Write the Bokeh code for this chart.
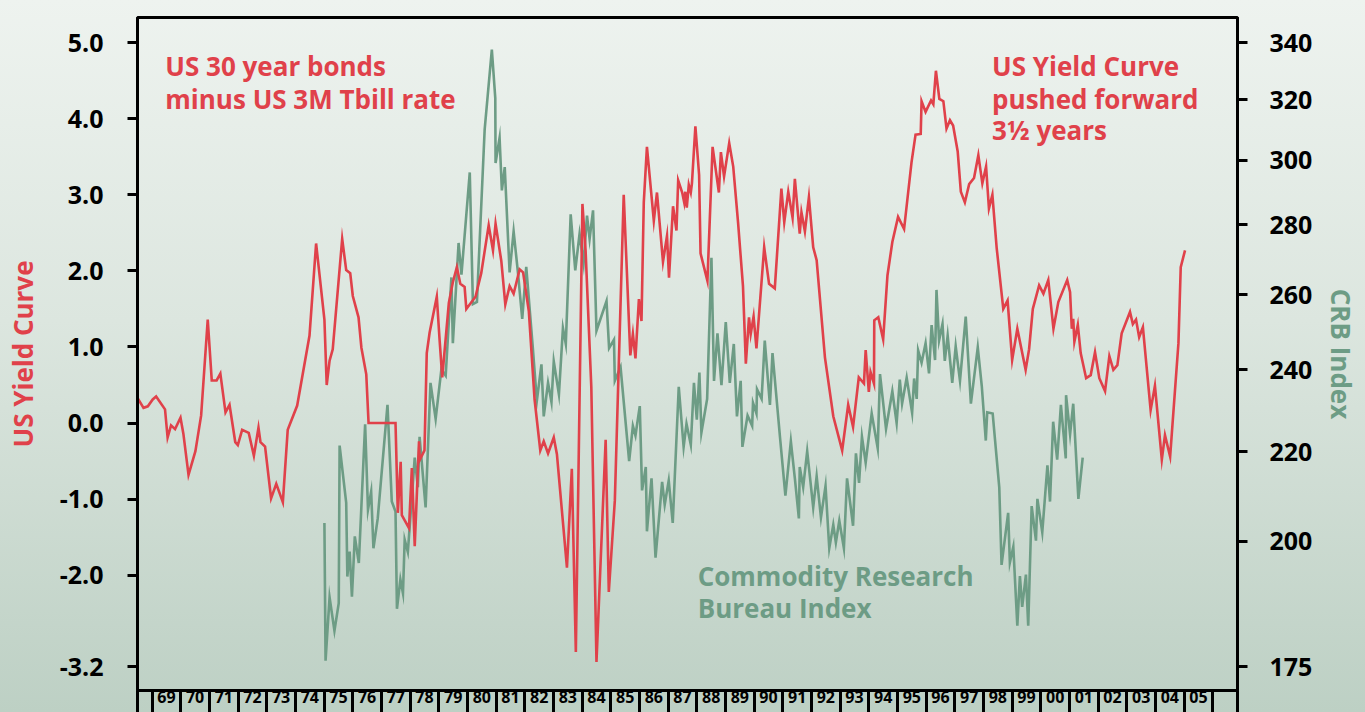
from bokeh.plotting import figure
from bokeh.models import (Range1d, LogAxis, LogScale, FixedTicker,
                          PrintfTickFormatter, Label)
from bokeh.embed import file_html
from bokeh.resources import INLINE

# ---------------- data ----------------
# US yield curve (30y bonds minus 3M T-bill), pushed forward 3.5 years
yc_year = [1968.49, 1968.70, 1968.85, 1969.02, 1969.14, 1969.45, 1969.54, 1969.66, 1969.80, 1969.99,
           1970.09, 1970.27, 1970.51, 1970.71, 1970.94, 1971.08, 1971.25, 1971.38, 1971.56, 1971.70,
           1971.90, 1971.99, 1972.14, 1972.37, 1972.55, 1972.71, 1972.78, 1972.94, 1973.15, 1973.33,
           1973.56, 1973.73, 1974.06, 1974.49, 1974.72, 1975.01, 1975.09, 1975.19, 1975.30, 1975.63,
           1975.77, 1975.91, 1976.00, 1976.20, 1976.30, 1976.47, 1976.55, 1977.49, 1977.57, 1977.67,
           1977.71, 1977.96, 1978.06, 1978.16, 1978.31, 1978.33, 1978.50, 1978.58, 1978.68, 1978.93,
           1979.03, 1979.12, 1979.35, 1979.49, 1979.63, 1979.75, 1979.90, 1979.96, 1980.28, 1980.48,
           1980.74, 1980.89, 1980.98, 1981.18, 1981.32, 1981.47, 1981.61, 1981.82, 1981.94, 1982.14,
           1982.34, 1982.54, 1982.66, 1982.81, 1983.01, 1983.12, 1983.47, 1983.64, 1983.78, 1984.01,
           1984.12, 1984.32, 1984.50, 1984.82, 1984.93, 1985.14, 1985.45, 1985.68, 1985.77, 1985.86,
           1985.98, 1986.07, 1986.15, 1986.26, 1986.50, 1986.61, 1986.82, 1986.96, 1987.03, 1987.17,
           1987.29, 1987.35, 1987.49, 1987.56, 1987.60, 1987.65, 1987.72, 1987.79, 1987.83, 1987.95,
           1988.08, 1988.13, 1988.37, 1988.55, 1988.77, 1988.84, 1988.95, 1989.13, 1989.27, 1989.44,
           1989.61, 1989.71, 1989.82, 1989.88, 1989.98, 1990.08, 1990.35, 1990.52, 1990.72, 1990.95,
           1991.05, 1991.19, 1991.34, 1991.42, 1991.59, 1991.65, 1991.77, 1991.91, 1992.06, 1992.18,
           1992.47, 1992.76, 1993.07, 1993.28, 1993.45, 1993.65, 1993.83, 1993.89, 1994.00, 1994.06,
           1994.18, 1994.19, 1994.33, 1994.50, 1994.65, 1994.82, 1995.02, 1995.23, 1995.49, 1995.63,
           1995.81, 1995.84, 1995.98, 1996.17, 1996.25, 1996.34, 1996.46, 1996.60, 1996.71, 1996.83,
           1996.94, 1997.10, 1997.21, 1997.35, 1997.50, 1997.67, 1997.82, 1997.96, 1998.09, 1998.19,
           1998.31, 1998.46, 1998.69, 1998.84, 1999.00, 1999.18, 1999.47, 1999.59, 1999.72, 1999.94,
           2000.09, 2000.26, 2000.44, 2000.61, 2000.92, 2001.02, 2001.08, 2001.13, 2001.17, 2001.29,
           2001.39, 2001.58, 2001.74, 2001.89, 2002.04, 2002.24, 2002.39, 2002.53, 2002.67, 2002.82,
           2003.11, 2003.21, 2003.32, 2003.43, 2003.56, 2003.83, 2003.98, 2004.22, 2004.33, 2004.51,
           2004.80, 2004.88, 2005.03]
yc_value = [0.33, 0.20, 0.22, 0.31, 0.35, 0.18, -0.19, -0.03, -0.08, 0.07,
            -0.14, -0.68, -0.37, 0.10, 1.36, 0.56, 0.56, 0.65, 0.14, 0.24,
            -0.25, -0.29, -0.09, -0.13, -0.43, -0.06, -0.25, -0.31, -0.99, -0.80,
            -1.04, -0.09, 0.23, 1.15, 2.36, 1.36, 0.50, 0.82, 0.97, 2.42,
            2.01, 1.97, 1.67, 1.39, 0.99, 0.64, 0.00, 0.00, -1.18, -0.51,
            -1.21, -1.38, -0.59, -1.62, -0.24, -0.49, -0.36, 0.92, 1.19, 1.66,
            1.08, 0.60, 1.58, 1.85, 2.05, 1.83, 1.79, 1.50, 1.66, 1.97,
            2.60, 2.27, 2.62, 2.13, 1.56, 1.80, 1.70, 2.02, 1.98, 1.47,
            0.31, -0.36, -0.24, -0.40, -0.19, -0.41, -1.90, -0.60, -3.01, 2.88,
            2.27, 0.47, -3.14, -0.22, -2.22, -1.02, 3.00, 0.89, 1.17, 0.85,
            1.63, 1.34, 2.90, 3.63, 2.66, 3.03, 2.12, 2.46, 1.91, 2.85,
            2.53, 3.19, 3.03, 2.90, 3.04, 2.83, 3.13, 3.03, 3.15, 3.90,
            3.26, 2.23, 1.87, 3.63, 3.03, 3.56, 3.24, 3.68, 3.37, 2.63,
            1.80, 0.78, 1.39, 1.17, 1.40, 0.98, 2.31, 1.83, 1.77, 3.08,
            2.64, 3.04, 2.70, 3.21, 2.49, 2.77, 2.52, 2.97, 2.31, 2.14,
            0.86, 0.09, -0.36, 0.24, -0.05, 0.60, 0.52, 0.96, 0.41, 0.67,
            0.52, 1.35, 1.39, 1.10, 1.94, 2.38, 2.71, 2.55, 3.43, 3.79,
            3.80, 4.23, 4.09, 4.24, 4.19, 4.63, 4.26, 4.23, 3.87, 3.98,
            3.91, 3.57, 3.04, 2.90, 3.14, 3.22, 3.52, 3.15, 3.37, 2.82,
            3.00, 2.30, 1.50, 1.61, 0.83, 1.24, 0.70, 0.97, 1.50, 1.81,
            1.70, 1.88, 1.24, 1.59, 1.88, 1.72, 1.24, 1.37, 1.07, 1.29,
            0.92, 0.59, 0.63, 0.93, 0.59, 0.42, 0.88, 0.70, 0.76, 1.18,
            1.46, 1.30, 1.36, 1.13, 1.26, 0.17, 0.49, -0.48, -0.16, -0.44,
            1.05, 2.05, 2.27]

# Commodity Research Bureau index
crb_year = [1975.01, 1975.05, 1975.19, 1975.36, 1975.51, 1975.54, 1975.77, 1975.81, 1975.89, 1975.97,
            1976.07, 1976.21, 1976.43, 1976.53, 1976.64, 1976.72, 1976.87, 1977.21, 1977.36, 1977.49,
            1977.54, 1977.66, 1977.75, 1977.81, 1977.92, 1978.16, 1978.27, 1978.33, 1978.54, 1978.71,
            1978.89, 1979.09, 1979.24, 1979.44, 1979.49, 1979.69, 1979.79, 1980.08, 1980.19, 1980.33,
            1980.60, 1980.85, 1980.97, 1980.98, 1981.12, 1981.20, 1981.30, 1981.47, 1981.61, 1981.76,
            1981.91, 1982.05, 1982.28, 1982.42, 1982.58, 1982.66, 1982.81, 1982.93, 1983.01, 1983.19,
            1983.33, 1983.43, 1983.60, 1983.76, 1983.91, 1984.05, 1984.17, 1984.26, 1984.38, 1984.50,
            1984.85, 1984.94, 1985.11, 1985.14, 1985.34, 1985.64, 1985.77, 1985.86, 1986.01, 1986.09,
            1986.22, 1986.26, 1986.42, 1986.56, 1986.79, 1986.88, 1987.02, 1987.16, 1987.37, 1987.54,
            1987.64, 1987.79, 1987.90, 1988.00, 1988.09, 1988.16, 1988.36, 1988.51, 1988.60, 1988.72,
            1988.86, 1989.01, 1989.15, 1989.29, 1989.40, 1989.53, 1989.59, 1989.77, 1989.93, 1989.96,
            1990.08, 1990.10, 1990.26, 1990.37, 1990.55, 1990.64, 1990.90, 1991.09, 1991.28, 1991.42,
            1991.56, 1991.59, 1991.71, 1991.85, 1992.06, 1992.18, 1992.33, 1992.49, 1992.62, 1992.76,
            1992.85, 1992.97, 1993.13, 1993.24, 1993.45, 1993.55, 1993.66, 1993.76, 1993.89, 1994.10,
            1994.31, 1994.39, 1994.60, 1994.82, 1994.97, 1995.08, 1995.16, 1995.32, 1995.51, 1995.58,
            1995.67, 1995.72, 1995.84, 1995.98, 1996.10, 1996.19, 1996.31, 1996.36, 1996.45, 1996.57,
            1996.65, 1996.75, 1996.91, 1997.03, 1997.18, 1997.38, 1997.56, 1997.80, 1997.94, 1998.08,
            1998.13, 1998.32, 1998.55, 1998.63, 1998.86, 1998.92, 1999.04, 1999.18, 1999.27, 1999.35,
            1999.48, 1999.56, 1999.68, 1999.83, 1999.88, 2000.05, 2000.23, 2000.32, 2000.43, 2000.57,
            2000.70, 2000.87, 2000.88, 2001.02, 2001.13, 2001.31, 2001.46]
crb_value = [203.9, 176.1, 188.4, 181.8, 187.2, 221.4, 208.3, 192.6, 197.8, 188.5,
             201.0, 195.4, 226.5, 206.8, 210.8, 198.5, 204.9, 231.2, 208.6, 206.4,
             186.1, 192.0, 189.2, 200.3, 197.7, 218.6, 211.8, 223.5, 207.3, 236.7,
             227.8, 240.1, 238.5, 264.8, 246.9, 274.7, 265.6, 296.1, 257.4, 258.0,
             310.0, 337.5, 320.5, 299.1, 307.2, 290.5, 297.8, 266.2, 278.1, 266.2,
             253.4, 267.8, 245.6, 232.2, 241.4, 228.4, 236.7, 231.9, 242.2, 233.8,
             250.9, 246.7, 283.2, 266.8, 277.4, 268.8, 282.8, 275.9, 284.4, 250.2,
             258.2, 245.6, 247.8, 237.2, 240.7, 217.8, 226.1, 223.8, 230.9, 211.1,
             216.4, 202.1, 213.8, 196.5, 213.0, 207.9, 213.3, 203.9, 235.7, 221.1,
             226.6, 221.6, 236.7, 227.6, 239.3, 224.5, 232.7, 270.4, 237.2, 249.5,
             236.1, 252.5, 236.7, 246.7, 228.4, 237.2, 221.1, 228.6, 226.1, 231.7,
             229.1, 235.1, 232.7, 247.6, 231.2, 244.3, 223.5, 209.9, 222.4, 213.8,
             204.9, 216.4, 211.8, 220.1, 207.3, 214.3, 205.1, 212.1, 198.5, 203.5,
             199.7, 204.4, 198.5, 213.8, 203.3, 219.6, 212.8, 223.5, 217.4, 229.1,
             220.8, 238.9, 225.4, 234.6, 226.8, 237.5, 231.5, 238.0, 229.3, 237.8,
             232.7, 245.0, 241.8, 246.9, 239.1, 251.7, 242.5, 261.3, 247.6, 252.0,
             242.3, 248.9, 236.7, 246.1, 237.2, 254.0, 231.5, 245.8, 235.9, 222.6,
             229.4, 229.1, 211.8, 195.0, 206.1, 195.5, 198.8, 182.8, 192.7, 186.5,
             193.0, 182.8, 207.6, 200.1, 209.2, 201.9, 216.8, 208.6, 227.1, 218.1,
             231.2, 218.4, 233.6, 224.1, 231.5, 209.2, 218.6]

year_labels = ["69", "70", "71", "72", "73", "74", "75", "76", "77", "78",
               "79", "80", "81", "82", "83", "84", "85", "86", "87", "88",
               "89", "90", "91", "92", "93", "94", "95", "96", "97", "98",
               "99", "00", "01", "02", "03", "04", "05"]
first_year = 1969
left_ticks = [-3.2, -2.0, -1.0, 0.0, 1.0, 2.0, 3.0, 4.0, 5.0]
right_ticks = [175, 200, 220, 240, 260, 280, 300, 320, 340]

# ---------------- style ----------------
RED = "#e0414a"
GREEN = "#6d9c85"
FONT = "Open Sans"
x_start, x_end = 1968.49, 2006.86

p = figure(width=1365, height=712, output_backend="svg", toolbar_location=None,
           x_range=Range1d(x_start, x_end), y_range=Range1d(-3.515, 5.33),
           min_border_left=137, min_border_right=128, min_border_top=17,
           min_border_bottom=22)
p.styles = {"background": "linear-gradient(to bottom, #eef3ef 0%, #dce6df 45%, #bdd0c4 100%)"}
p.background_fill_color = None
p.border_fill_color = None
p.outline_line_color = "black"
p.outline_line_width = 3
p.outline_line_alpha = 1.0
p.xgrid.grid_line_color = None
p.ygrid.grid_line_color = None

# bottom year strip
mid_ticks = [first_year + i + 0.5 for i in range(len(year_labels))]
bounds = [x_start] + [first_year + i for i in range(len(year_labels) + 1)] + [x_end]
xa = p.xaxis[0]
xa.ticker = FixedTicker(ticks=mid_ticks, minor_ticks=bounds)
xa.major_label_overrides = {t: lab for t, lab in zip(mid_ticks, year_labels)}
xa.major_tick_line_color = None
xa.major_tick_out = 0
xa.major_tick_in = 0
xa.minor_tick_line_color = "black"
xa.minor_tick_line_width = 3
xa.minor_tick_out = 24
xa.minor_tick_in = 0
xa.axis_line_color = "black"
xa.axis_line_width = 3
xa.major_label_standoff = -24
xa.major_label_text_font = FONT
xa.major_label_text_font_size = "16px"
xa.major_label_text_font_style = "bold"
xa.major_label_text_color = "black"

# left axis
ya = p.yaxis[0]
ya.ticker = FixedTicker(ticks=left_ticks)
ya.formatter = PrintfTickFormatter(format="%.1f")
ya.major_tick_out = 10
ya.major_tick_in = 0
ya.major_tick_line_width = 3
ya.minor_tick_line_color = None
ya.axis_line_width = 3
ya.major_label_standoff = 24
ya.major_label_text_font = FONT
ya.major_label_text_font_size = "25px"
ya.major_label_text_font_style = "bold"
ya.major_label_text_color = "black"
ya.axis_label = "US Yield Curve"
ya.axis_label_text_color = RED
ya.axis_label_text_font = FONT
ya.axis_label_text_font_size = "26px"
ya.axis_label_text_font_style = "bold"
ya.axis_label_standoff = 16

# right log axis for CRB
p.extra_y_ranges = {"crb": Range1d(170.6, 349.2)}
p.extra_y_scales = {"crb": LogScale()}
ra = LogAxis(y_range_name="crb", ticker=FixedTicker(ticks=right_ticks),
             formatter=PrintfTickFormatter(format="%d"))
ra.major_tick_out = 10
ra.major_tick_in = 0
ra.major_tick_line_width = 3
ra.minor_tick_line_color = None
ra.axis_line_width = 3
ra.major_label_standoff = 22
ra.major_label_text_font = FONT
ra.major_label_text_font_size = "25px"
ra.major_label_text_font_style = "bold"
ra.major_label_text_color = "black"
ra.axis_label = "CRB Index"
ra.axis_label_text_color = GREEN
ra.axis_label_text_font = FONT
ra.axis_label_text_font_size = "26px"
ra.axis_label_text_font_style = "bold"
ra.axis_label_standoff = 8
p.add_layout(ra, "right")

# series
p.line(crb_year, crb_value, y_range_name="crb", line_color=GREEN, line_width=2.6,
       line_join="miter")
p.line(yc_year, yc_value, line_color=RED, line_width=2.6, line_join="miter")

# annotations
def note(x, y, text, color):
    p.add_layout(Label(x=x, y=y, text=text, text_color=color, text_font=FONT,
                       text_font_size="26px", text_font_style="bold",
                       text_baseline="alphabetic", text_align="left"))

note(1969.46, 4.69, "US 30 year bonds", RED)
note(1969.46, 4.26, "minus US 3M Tbill rate", RED)
note(1998.30, 4.69, "US Yield Curve", RED)
note(1998.30, 4.26, "pushed forward", RED)
note(1998.30, 3.85, "3\u00bd years", RED)
note(1988.03, -2.015, "Commodity Research", GREEN)
note(1988.03, -2.435, "Bureau Index", GREEN)

open("out.html", "w").write(file_html(p, INLINE))
